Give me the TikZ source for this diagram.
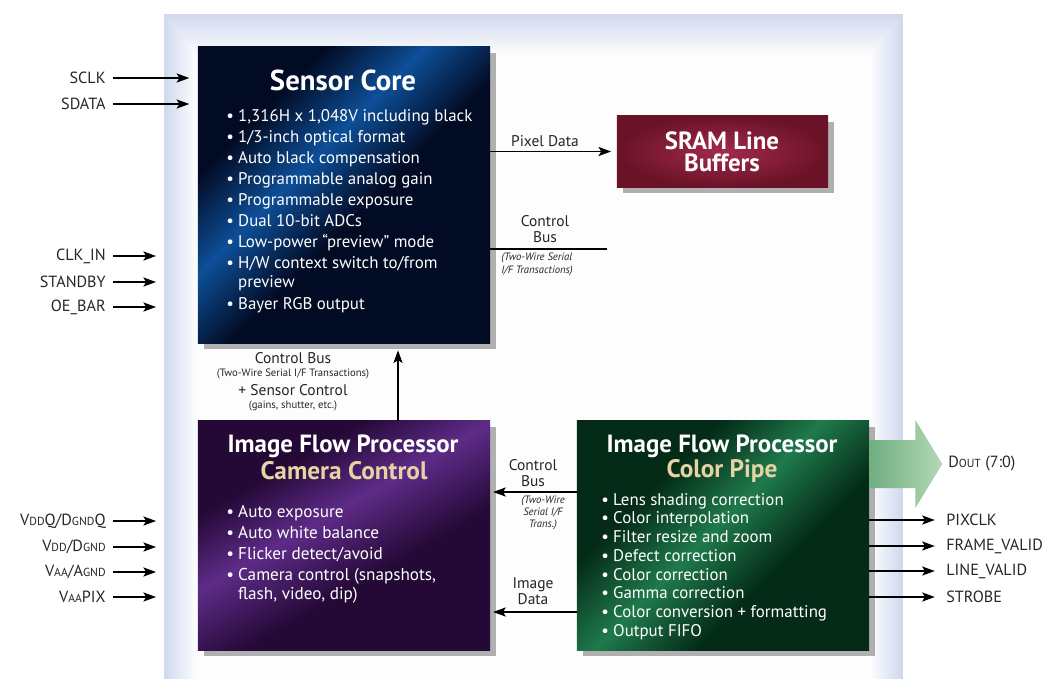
\documentclass[tikz,border=0pt]{standalone}
\usepackage{fontspec}
\setmainfont{PT Sans}
\usetikzlibrary{arrows.meta}
\usetikzlibrary{shadows}
\definecolor{panelblue}{HTML}{D0D9EE}
\definecolor{navyA}{HTML}{020B24}
\definecolor{navyB}{HTML}{0D4F98}
\definecolor{wineA}{HTML}{6A1228}
\definecolor{wineB}{HTML}{A32A4C}
\definecolor{plumA}{HTML}{240936}
\definecolor{plumB}{HTML}{5E2B88}
\definecolor{pineA}{HTML}{042B17}
\definecolor{pineB}{HTML}{1F7A4C}
\definecolor{beige}{HTML}{E6D3A3}
\definecolor{doutA}{HTML}{6FAE80}
\definecolor{doutB}{HTML}{B3D9B6}
\pgfdeclareverticalshading{navystreak}{100bp}{color(0bp)=(navyA); color(46bp)=(navyA); color(58bp)=(navyB); color(70bp)=(navyA); color(100bp)=(navyA)}
\pgfdeclareverticalshading{plumstreak}{100bp}{color(0bp)=(plumA); color(40bp)=(plumA); color(55bp)=(plumB); color(68bp)=(plumA); color(100bp)=(plumA)}
\pgfdeclareverticalshading{pinestreak}{100bp}{color(0bp)=(pineA); color(38bp)=(pineA); color(52bp)=(pineB); color(66bp)=(pineA); color(100bp)=(pineA)}
\newcommand{\smc}[1]{{\fontsize{8.3}{9}\selectfont #1}}
\newcommand{\itm}{\makebox[8.5pt][l]{\textbullet}}
\tikzstyle{block} = [minimum width=7.3cm, inner sep=0pt, drop shadow={shadow xshift=4pt, shadow yshift=-4pt, fill=black, opacity=0.3}]
\tikzstyle{title} = [text=white, font=\bfseries\fontsize{17.7}{19}\selectfont, inner sep=0pt]
\tikzstyle{list} = [text=white, align=left, inner sep=0pt, font=\fontsize{12}{15}\selectfont]
\tikzstyle{sig} = [text=black!85, font=\fontsize{11.5}{13}\selectfont, inner xsep=5pt, inner ysep=1pt]
\tikzstyle{lbl} = [text=black!85, font=\fontsize{11}{11.5}\selectfont, align=center, inner sep=0pt]
\tikzstyle{note} = [text=black!85, font=\fontsize{7.6}{9}\selectfont, align=center, inner sep=0pt]
\tikzstyle{arrow} = [line width=0.8pt, -{Stealth[length=9pt, width=6.5pt, inset=2pt]}]

\begin{document}
\begin{tikzpicture}[x=0.025cm, y=-0.025cm]
\useasboundingbox (0,0) rectangle (1047,679);
\foreach \i [evaluate=\i as \p using int(100-6*\i)] in {0,...,16}
  \fill[panelblue!\p!white] ({164+2*\i},{14+2.5*\i}) rectangle ({903-2*\i},679);

\node[block, minimum height=7.4cm, shading=navystreak, shading angle=45] (sensor) at (344,195) {};
\node[block, minimum width=5.275cm, minimum height=1.775cm, inner color=wineB, outer color=wineA] (sram) at (722.5,151.5) {};
\node[block, minimum height=5.725cm, shading=plumstreak, shading angle=30] (camctl) at (344,535.5) {};
\node[block, minimum height=5.725cm, shading=pinestreak, shading angle=45] (colpipe) at (723,535.5) {};

\node[title, font=\bfseries\fontsize{20.5}{22}\selectfont] (sctitle) at (343,80) {Sensor Core};
\node[list, anchor=north west] (sclist) at (226,109) {\itm 1,316H x 1,048V including black\\
\itm 1/3-inch optical format\\
\itm Auto black compensation\\
\itm Programmable analog gain\\
\itm Programmable exposure\\
\itm Dual 10-bit ADCs\\
\itm Low-power “preview” mode\\
\itm H/W context switch to/from\\[-2pt]
\hspace*{8.5pt}preview\\[1pt]
\itm Bayer RGB output};
\node[title, align=center, font=\bfseries\fontsize{17.7}{16}\selectfont] (sramtitle) at (722,152) {SRAM Line\\Buffers};

\node[title] (camtitle) at (343,446) {Image Flow Processor};
\node[title, text=beige, font=\bfseries\fontsize{18}{19}\selectfont] (camsub) at (344,471) {Camera Control};
\node[list, anchor=north west, font=\fontsize{12.2}{15}\selectfont] (camlist) at (226,505) {\itm Auto exposure\\
\itm Auto white balance\\
\itm Flicker detect/avoid\\
\itm Camera control (snapshots,\\[-1.5pt]
\hspace*{8.5pt}flash, video, dip)};

\node[title] (cptitle) at (722,446) {Image Flow Processor};
\node[title, text=beige, font=\bfseries\fontsize{18}{19}\selectfont] (cpsub) at (722,471) {Color Pipe};
\node[list, anchor=north west, font=\fontsize{12}{13.3}\selectfont] (cplist) at (601,493) {\itm Lens shading correction\\
\itm Color interpolation\\
\itm Filter resize and zoom\\
\itm Defect correction\\
\itm Color correction\\
\itm Gamma correction\\
\itm Color conversion + formatting\\
\itm Output FIFO};

\coordinate (inl) at (156,0);
\node[sig, anchor=east] (sclk) at (113,78) {SCLK};
\node[sig, anchor=east] (sdata) at (113,104) {SDATA};
\node[sig, anchor=east] (clkin) at (113,256) {CLK\_IN};
\node[sig, anchor=east] (stby) at (113,282) {STANDBY};
\node[sig, anchor=east] (oebar) at (113,307) {OE\_BAR};
\node[sig, anchor=east] (vddq) at (113,521) {V\smc{DD}Q/D\smc{GND}Q};
\node[sig, anchor=east] (vdd) at (113,547) {V\smc{DD}/D\smc{GND}};
\node[sig, anchor=east] (vaa) at (113,572) {V\smc{AA}/A\smc{GND}};
\node[sig, anchor=east] (vaapix) at (113,597) {V\smc{AA}PIX};

\draw[arrow, shorten >=6pt] (sclk) -- (sclk -| sensor.west);
\draw[arrow, shorten >=6pt] (sdata) -- (sdata -| sensor.west);
\foreach \s in {clkin,stby,oebar,vddq,vdd,vaa,vaapix}
  \draw[arrow] (\s) -- (\s -| inl);

\node[sig, anchor=west] (dout) at (941,464) {D\smc{OUT} (7:0)};
\node[sig, anchor=west] (pixclk) at (939,520) {PIXCLK};
\node[sig, anchor=west] (fval) at (939,546) {FRAME\_VALID};
\node[sig, anchor=west] (lval) at (939,571) {LINE\_VALID};
\node[sig, anchor=west] (strobe) at (939,597) {STROBE};
\foreach \s in {pixclk,fval,lval,strobe}
  \draw[arrow, shorten >=3pt] (colpipe.east |- \s) -- (\s);

\shade[left color=doutA, right color=doutB] (colpipe.east |- dout.west) -- ++(0,-24) -- ++(46,0) -- ++(0,-20) -- ++(27,44) -- ++(-27,44) -- ++(0,-20) -- ++(-46,0) -- cycle;

\node[lbl] (pdlbl) at (545,141) {Pixel Data};
\draw[arrow, shorten >=4pt] (sensor.east |- sram.west) -- (sram.west);

\coordinate (cbend) at (607,249);
\node[lbl] (cblbl) at (545,229) {Control\\Bus};
\node[note, anchor=north west, align=left, font=\itshape\fontsize{7.6}{9.2}\selectfont] (cbnote) at (501,253) {(Two-Wire Serial\\I/F Transactions)};
\draw[line width=0.8pt] (sensor.east |- cbend) -- (cbend);

\coordinate (vx) at (398,0);
\node[lbl] (vlbl1) at (293,358) {Control Bus};
\node[note] (vnote1) at (293,374) {(Two-Wire Serial I/F Transactions)};
\node[lbl] (vlbl2) at (293,390) {+ Sensor Control};
\node[note] (vnote2) at (293,406) {(gains, shutter, etc.)};
\draw[arrow, shorten >=5pt] (camctl.north -| vx) -- (sensor.south -| vx);

\coordinate (cby) at (0,492);
\coordinate (idy) at (0,612);
\node[lbl] (cb2lbl) at (533,473) {Control\\Bus};
\node[note, font=\itshape\fontsize{7.6}{8.4}\selectfont] (cb2note) at (543,513) {(Two-Wire\\Serial I/F\\Trans.)};
\node[lbl] (idlbl) at (533,591) {Image\\Data};
\draw[arrow, shorten >=2pt] (colpipe.west |- cby) -- (camctl.east |- cby);
\draw[arrow, shorten >=2pt] (colpipe.west |- idy) -- (camctl.east |- idy);
\end{tikzpicture}
\end{document}
